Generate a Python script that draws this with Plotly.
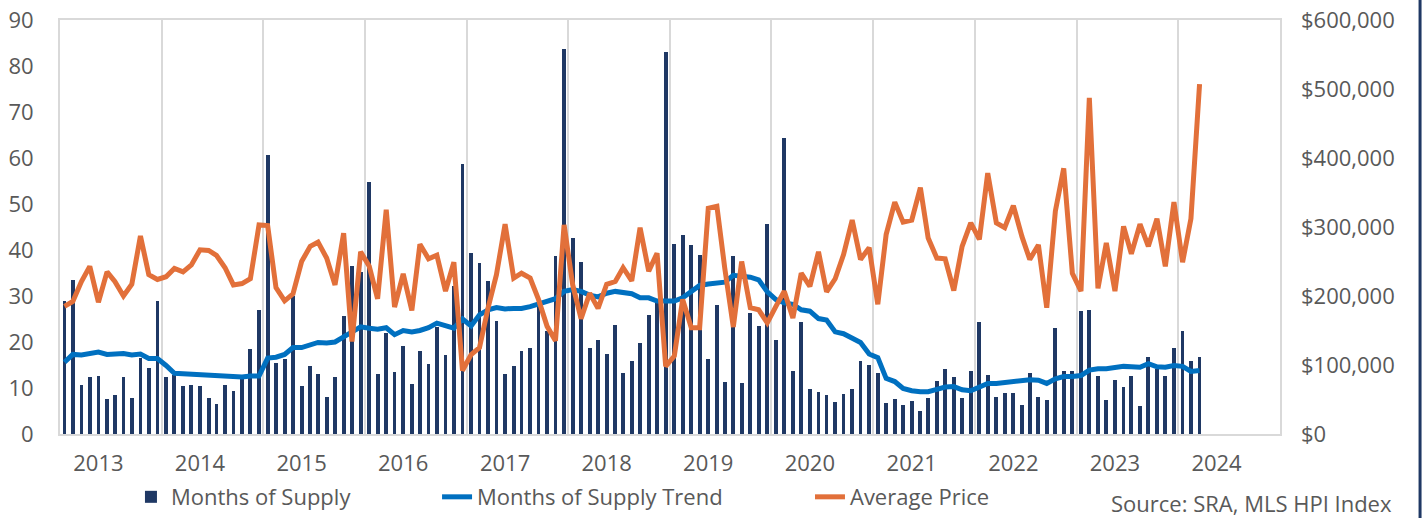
import pandas as pd
import plotly.graph_objects as go
from plotly.subplots import make_subplots

# ---- data (monthly, Sep 2012 - Nov 2023) ----
start_month = "2012-09-01"
n_months = 135
months = pd.date_range(start_month, periods=n_months, freq="MS")

months_of_supply = [
    29.0, 33.5, 10.7, 12.5, 12.7, 7.7, 8.5, 12.5, 7.8, 16.6, 14.4, 29.0,
    12.4, 12.8, 10.4, 10.7, 10.5, 7.8, 6.5, 10.7, 9.3, 12.0, 18.5, 27.0,
    60.7, 15.5, 16.3, 29.9, 10.5, 14.7, 13.1, 8.0, 12.3, 25.7, 36.6, 35.3,
    54.8, 13.1, 22.0, 13.4, 19.1, 10.9, 18.1, 15.2, 23.2, 17.2, 32.1, 58.7,
    39.4, 37.1, 33.2, 24.6, 13.1, 14.7, 18.1, 18.6, 27.8, 22.3, 38.8, 83.8,
    42.6, 37.5, 18.6, 20.4, 17.3, 23.8, 13.3, 15.8, 19.8, 25.8, 29.0, 83.1,
    41.4, 43.2, 41.0, 39.0, 16.2, 28.0, 11.4, 38.7, 11.1, 26.2, 23.4, 45.7,
    20.5, 64.3, 13.8, 24.4, 9.8, 9.2, 8.5, 7.0, 8.6, 9.7, 15.8, 14.9,
    13.3, 6.7, 7.6, 6.3, 7.1, 5.1, 7.8, 11.5, 14.2, 12.3, 7.8, 13.6,
    24.4, 12.9, 8.1, 8.9, 8.9, 6.4, 13.2, 8.1, 7.3, 23.0, 13.8, 13.6,
    26.7, 26.9, 12.6, 7.3, 11.8, 10.3, 12.7, 6.1, 16.7, 14.2, 12.7, 18.7,
    22.3, 15.8, 16.8,
]

supply_trend = [
    15.6, 17.3, 17.2, 17.6, 17.8, 17.3, 17.3, 17.5, 17.2, 17.4, 16.4, 16.4,
    14.9, 13.2, 13.1, 13.0, 12.9, 12.8, 12.7, 12.7, 12.7, 12.4, 12.6, 12.6,
    16.5, 16.7, 17.3, 18.8, 18.8, 19.4, 19.9, 19.8, 20.0, 21.1, 22.3, 23.3,
    23.0, 22.8, 23.1, 21.6, 22.5, 22.2, 22.5, 23.1, 24.1, 23.4, 23.0, 25.0,
    23.5, 25.9, 27.0, 27.5, 27.2, 27.3, 27.3, 27.7, 28.2, 28.8, 29.4, 31.0,
    31.4, 31.0, 30.2, 29.8, 30.6, 31.0, 30.7, 30.5, 29.6, 29.6, 28.9, 28.8,
    28.9, 29.6, 31.0, 32.3, 32.6, 32.9, 33.0, 34.5, 34.4, 34.1, 33.5, 30.9,
    29.2, 28.5, 28.2, 27.0, 26.7, 25.1, 24.8, 22.2, 21.8, 20.7, 19.9, 17.4,
    16.6, 12.1, 11.4, 9.9, 9.4, 9.2, 9.2, 9.7, 10.2, 10.3, 9.6, 9.4,
    10.3, 11.0, 11.0, 11.2, 11.4, 11.5, 11.8, 11.7, 11.0, 12.0, 12.5, 12.5,
    12.7, 13.9, 14.2, 14.2, 14.4, 14.7, 14.6, 14.5, 15.3, 14.6, 14.5, 14.9,
    14.7, 13.6, 13.8,
]

average_price = [
    185000, 192000, 221000, 243000, 191000, 235000, 221000, 200000, 217000, 287000, 231000, 224000,
    228000, 240000, 235000, 245000, 267000, 266000, 259000, 241000, 216000, 218000, 225000, 303000,
    302000, 212000, 193000, 203000, 250000, 272000, 278000, 255000, 216000, 291000, 134000, 264000,
    243000, 196000, 325000, 184000, 232000, 179000, 275000, 254000, 259000, 207000, 249000, 92000,
    115000, 125000, 183000, 231000, 304000, 226000, 233000, 226000, 195000, 156000, 135000, 303000,
    216000, 167000, 204000, 182000, 217000, 221000, 241000, 222000, 299000, 236000, 262000, 98000,
    113000, 195000, 154000, 154000, 327000, 330000, 241000, 155000, 250000, 183000, 180000, 161000,
    185000, 207000, 168000, 233000, 214000, 264000, 206000, 225000, 260000, 310000, 253000, 270000,
    188000, 289000, 336000, 307000, 310000, 357000, 284000, 255000, 254000, 208000, 272000, 306000,
    282000, 378000, 306000, 299000, 331000, 286000, 253000, 274000, 183000, 323000, 385000, 233000,
    207000, 487000, 211000, 277000, 207000, 301000, 261000, 304000, 272000, 312000, 243000, 336000,
    249000, 312000, 507000,
]

year_labels = ["2013", "2014", "2015", "2016", "2017", "2018",
               "2019", "2020", "2021", "2022", "2023", "2024"]
year_ticks = [f"{y}-01-01" for y in year_labels]

# ---- styling ----
FONT = "Open Sans, Liberation Sans, Arial, sans-serif"
GREY = "#595959"
GRID = "#d9d9d9"
NAVY = "#1F3864"
BLUE = "#0070C0"
ORANGE = "#E2703A"

month_ms = 30.44 * 24 * 3600 * 1000
bar_width = 0.45 * month_ms

fig = make_subplots(specs=[[{"secondary_y": True}]])

fig.add_trace(go.Bar(
    x=months, y=months_of_supply, name="Months of Supply",
    marker=dict(color=NAVY, line=dict(width=0)), width=bar_width,
    legend="legend", showlegend=True,
), secondary_y=False)

fig.add_trace(go.Scatter(
    x=months, y=supply_trend, name="Months of Supply Trend", mode="lines",
    line=dict(color=BLUE, width=5), legend="legend2", showlegend=True,
), secondary_y=False)

fig.add_trace(go.Scatter(
    x=months, y=average_price, name="Average Price", mode="lines",
    line=dict(color=ORANGE, width=5), legend="legend3", showlegend=True,
), secondary_y=True)

legend_common = dict(orientation="h", xref="container", yref="container",
                     yanchor="middle", y=0.0405, xanchor="left",
                     font=dict(family=FONT, size=22, color=GREY),
                     bgcolor="rgba(0,0,0,0)")

fig.update_layout(
    width=1425, height=518,
    margin=dict(l=60, r=145, t=20, b=84, autoexpand=False),
    paper_bgcolor="white", plot_bgcolor="white",
    font=dict(family=FONT, size=22, color=GREY),
    showlegend=True,
    bargap=0,
    legend=dict(x=0.0919, **legend_common),
    legend2=dict(x=0.3067, **legend_common),
    legend3=dict(x=0.5684, **legend_common),
    annotations=[dict(
        text="Source: SRA, MLS HPI Index", xref="paper", yref="paper",
        x=1.0926, y=-0.1655, xanchor="right", yanchor="middle", showarrow=False,
        borderpad=0,
        font=dict(family=FONT, size=22, color=GREY),
    )],
    shapes=[dict(type="line", xref="paper", yref="paper",
                 x0=1.1148, x1=1.1148, y0=-0.3, y1=1.1,
                 line=dict(color=NAVY, width=3))],
)

fig.update_xaxes(
    type="date", range=["2012-08-16", "2024-08-16"], domain=[0, 1],
    tickmode="array", tickvals=year_ticks, ticktext=year_labels,
    showgrid=False, ticks="", ticklabelstandoff=9, automargin=False,
    tickfont=dict(family=FONT, size=22, color=GREY),
    minor=dict(tick0="2012-08-16", dtick="M12", showgrid=True,
               gridcolor=GRID, gridwidth=1.5, ticks=""),
    showline=True, mirror=True, linecolor=GRID, linewidth=2,
)

fig.update_yaxes(
    range=[0, 90], dtick=10, showgrid=False, ticks="", zeroline=False,
    showline=True, mirror=True, linecolor=GRID, linewidth=2,
    ticklabelstandoff=20, automargin=False,
    tickfont=dict(family=FONT, size=22, color=GREY),
    secondary_y=False,
)
fig.update_yaxes(
    range=[0, 600000], dtick=100000, tickformat="$,.0f", showgrid=False,
    ticks="", zeroline=False, showline=False, ticklabelstandoff=20,
    automargin=False,
    tickfont=dict(family=FONT, size=22, color=GREY),
    secondary_y=True,
)

fig.write_html("out.html", config={"displayModeBar": False},
               post_script="document.body.style.margin='0';")
